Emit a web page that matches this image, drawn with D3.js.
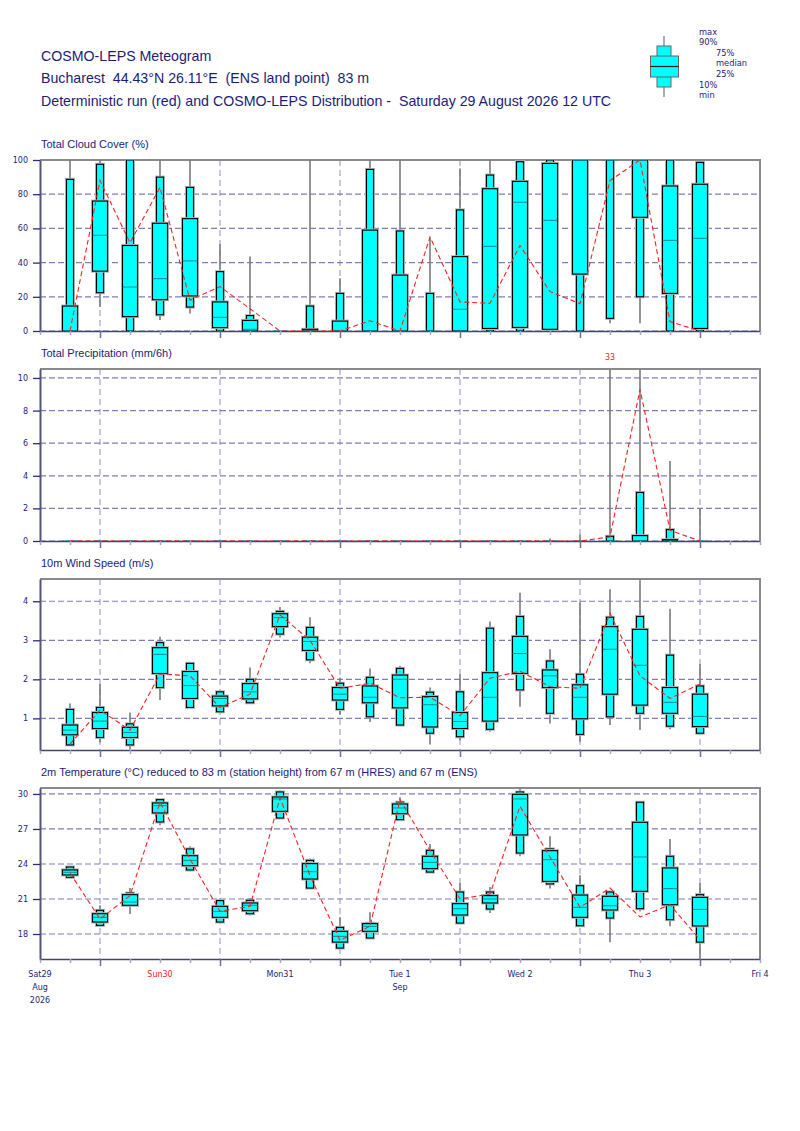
<!DOCTYPE html>
<html>
<head>
<meta charset="utf-8">
<script src="https://cdn.jsdelivr.net/npm/d3@7"></script>
<style>
  body { margin: 0; background: #fff; }
  text { white-space: pre; }
</style>
</head>
<body>
<div id="chart"></div>
<script>
// forecast steps, hours after Sat 29 Aug 2026 00 UTC
const stepHours = [6, 12, 18, 24, 30, 36, 42, 48, 54, 60, 66, 72, 78, 84, 90, 96, 102, 108, 114, 120, 126, 132];

// Total cloud cover (%)
const cloudMax = [100, 100, 100, 100, 100, 50.7, 43.5, 0, 100, 30.8, 100, 100, 54.6, 95, 100, 100, 100, 100, 100, 100, 100, 100];
const cloudP90 = [88.7, 97.5, 100, 90, 84, 34.7, 9, 0, 14.6, 22, 94.5, 58.5, 22, 70.8, 91.2, 99, 100, 100, 100, 100, 100, 98.6];
const cloudP75 = [14.6, 76, 50, 63, 65.7, 17, 6.2, 0, 1, 5.8, 59, 32.7, 0, 43.5, 83.2, 87.5, 98, 100, 100, 100, 84.8, 85.8];
const cloudMed = [0, 56, 25.7, 30.6, 41, 8, 1, 0, 0, 0, 0, 0, 0, 12.7, 49.5, 75.3, 64.7, 100, 100, 100, 53, 54.2];
const cloudP25 = [0, 35, 8.4, 18.3, 20.5, 2, 0, 0, 0, 0, 0, 0, 0, 0, 1.5, 2.1, 1, 33.3, 100, 66.5, 22, 1.5];
const cloudP10 = [0, 22.4, 0, 9.5, 14, 0, 0, 0, 0, 0, 0, 0, 0, 0, 0, 0, 0, 0, 7.4, 20, 0, 0];
const cloudMin = [0, 14, 0, 6.4, 10.3, 0, 0, 0, 0, 0, 0, 0, 0, 0, 0, 0, 0, 0, 4.5, 4.5, 0, 0];
const cloudDet = [0, 88, 51.6, 84, 18, 26, 13, 0, 0, 0, 6, 0, 55, 17, 16.2, 50, 23, 16, 88, 100, 5.5, 0];

// Total precipitation (mm/6h)
const precMax = [0, 0, 0, 0, 0, 0, 0, 0, 0, 0, 0, 0, 0, 0, 0, 0, 0.15, 0.4, 33, 10.5, 4.9, 2.0];
const precP90 = [0, 0, 0, 0, 0, 0, 0, 0, 0, 0, 0, 0, 0, 0, 0, 0, 0, 0, 0.29, 2.98, 0.7, 0];
const precP75 = [0, 0, 0, 0, 0, 0, 0, 0, 0, 0, 0, 0, 0, 0, 0, 0, 0, 0, 0, 0.33, 0.08, 0];
const precMed = [0, 0, 0, 0, 0, 0, 0, 0, 0, 0, 0, 0, 0, 0, 0, 0, 0, 0, 0, 0, 0, 0];
const precP25 = [0, 0, 0, 0, 0, 0, 0, 0, 0, 0, 0, 0, 0, 0, 0, 0, 0, 0, 0, 0, 0, 0];
const precP10 = [0, 0, 0, 0, 0, 0, 0, 0, 0, 0, 0, 0, 0, 0, 0, 0, 0, 0, 0, 0, 0, 0];
const precMin = [0, 0, 0, 0, 0, 0, 0, 0, 0, 0, 0, 0, 0, 0, 0, 0, 0, 0, 0, 0, 0, 0];
const precDet = [0, 0, 0, 0, 0, 0, 0, 0, 0, 0, 0, 0, 0, 0, 0, 0, 0, 0, 0.25, 9.3, 0.66, 0];

// 10m wind speed (m/s)
const windMax = [1.38, 1.88, 1.15, 3.09, 2.43, 1.68, 2.30, 3.85, 3.59, 2.04, 2.28, 2.35, 1.79, 2.13, 3.48, 4.22, 2.77, 3.97, 4.31, 4.6, 3.81, 2.39];
const windP90 = [1.23, 1.28, 0.86, 2.94, 2.41, 1.68, 2.0, 3.74, 3.33, 1.9, 2.05, 2.28, 1.67, 1.68, 3.31, 3.61, 2.47, 2.13, 3.59, 3.61, 2.62, 1.83];
const windP75 = [0.83, 1.15, 0.77, 2.81, 2.20, 1.57, 1.89, 3.68, 3.08, 1.79, 1.83, 2.11, 1.56, 1.15, 2.17, 3.10, 2.24, 1.86, 3.35, 3.28, 1.79, 1.62];
const windMed = [0.70, 0.93, 0.64, 2.64, 1.84, 1.51, 1.68, 3.58, 2.97, 1.62, 1.54, 2.0, 1.35, 0.92, 1.54, 2.66, 2.09, 1.54, 2.77, 2.36, 1.41, 1.05];
const windP25 = [0.58, 0.74, 0.51, 2.15, 1.51, 1.32, 1.50, 3.35, 2.74, 1.47, 1.40, 1.27, 0.78, 0.74, 0.93, 2.15, 1.79, 0.99, 1.62, 1.34, 1.13, 0.79];
const windP10 = [0.32, 0.51, 0.32, 1.79, 1.28, 1.17, 1.40, 3.16, 2.50, 1.23, 1.04, 0.83, 0.62, 0.53, 0.72, 1.73, 1.13, 0.59, 1.04, 1.13, 0.80, 0.62];
const windMin = [0.29, 0.38, 0.2, 1.47, 1.24, 1.17, 1.38, 3.07, 2.41, 1.1, 0.91, 0.83, 0.33, 0.44, 0.66, 1.30, 0.87, 0.40, 0.83, 0.70, 0.72, 0.62];
const windDet = [0.34, 1.21, 0.70, 2.14, 2.09, 1.28, 1.62, 3.65, 3.0, 1.77, 1.9, 1.53, 1.54, 1.07, 2.03, 2.21, 1.81, 1.77, 3.69, 2.09, 1.51, 1.88];

// 2m temperature (°C)
const tempMax = [23.8, 20.46, 21.94, 29.57, 25.51, 21.0, 21.09, 30.29, 24.46, 19.43, 19.86, 29.71, 25.71, 22.37, 22.03, 30.46, 26.37, 23.03, 21.71, 29.31, 26.14, 22.37];
const tempP90 = [23.74, 20.03, 21.51, 29.51, 25.29, 20.86, 20.89, 30.17, 24.31, 18.57, 18.94, 29.29, 25.17, 21.6, 21.6, 30.17, 25.29, 22.14, 21.6, 29.29, 24.66, 21.37];
const tempP75 = [23.49, 19.74, 21.37, 29.23, 24.71, 20.37, 20.66, 29.74, 24.03, 18.23, 18.89, 29.14, 24.66, 20.6, 21.29, 29.97, 25.14, 21.34, 21.23, 27.57, 23.66, 21.14];
const tempMed = [23.29, 19.43, 20.74, 29.0, 24.31, 19.94, 20.46, 29.57, 23.34, 17.8, 18.66, 28.8, 24.14, 20.17, 21.0, 29.57, 24.37, 20.29, 20.43, 24.6, 21.89, 20.11];
const tempP25 = [23.06, 19.03, 20.46, 28.37, 23.86, 19.43, 20.0, 28.51, 22.71, 17.31, 18.23, 28.31, 23.6, 19.63, 20.66, 26.49, 22.51, 19.43, 20.06, 21.66, 20.51, 18.69];
const tempP10 = [22.86, 18.74, 20.46, 27.6, 23.49, 19.03, 19.74, 27.94, 21.94, 16.8, 17.66, 27.8, 23.31, 18.94, 20.14, 24.94, 22.29, 18.71, 19.37, 20.17, 19.23, 17.31];
const tempMin = [22.86, 18.74, 19.71, 27.31, 23.37, 19.03, 19.6, 27.94, 21.94, 16.8, 17.66, 27.8, 23.31, 18.89, 19.8, 24.66, 21.89, 18.71, 17.29, 19.94, 18.66, 15.5];
const tempDet = [23.23, 19.29, 21.29, 29.29, 24.43, 19.94, 20.37, 29.66, 23.0, 17.46, 18.66, 29.51, 25.17, 21.0, 21.43, 28.94, 24.6, 20.29, 21.94, 19.46, 20.51, 17.51];

// tick labels
const cloudTicks = [0, 20, 40, 60, 80, 100];
const precTicks = [0, 2, 4, 6, 8, 10];
const windTicks = [1, 2, 3, 4];
const tempTicks = [18, 21, 24, 27, 30];
const dayLabels = [['Sat29', 'Aug', '2026'], ['Sun30'], ['Mon31'], ['Tue 1', 'Sep'], ['Wed 2'], ['Thu 3'], ['Fri 4']];

const navy = '#1c1c78';
const start = new Date(Date.UTC(2026, 7, 29));
const end = new Date(Date.UTC(2026, 8, 4));
const x = d3.scaleUtc().domain([start, end]).range([40, 760]);
const times = stepHours.map(h => d3.utcHour.offset(start, h));
const sixHours = d3.utcHour.every(6).range(start, d3.utcHour.offset(end, 1));
const noons = sixHours.filter(d => d.getUTCHours() === 12);

const svg = d3.select('#chart').append('svg')
    .attr('width', 800)
    .attr('height', 1131)
    .style('font-family', '"DejaVu Sans", sans-serif');

// header
const head = svg.append('g')
    .style('font-family', '"Liberation Sans", Arial, sans-serif')
    .style('font-size', '14.2px')
    .attr('fill', navy);
head.append('text').attr('x', 41).attr('y', 61).text('COSMO-LEPS Meteogram');
head.append('text').attr('x', 41).attr('y', 83).text('Bucharest  44.43°N 26.11°E  (ENS land point)  83 m');
head.append('text').attr('x', 41).attr('y', 106).text('Deterministic run (red) and COSMO-LEPS Distribution -  Saturday 29 August 2026 12 UTC');

// legend box
const leg = svg.append('g');
leg.append('line').attr('x1', 664).attr('x2', 664).attr('y1', 36).attr('y2', 97)
    .attr('stroke', '#777').attr('stroke-width', 1.2);
leg.append('rect').attr('x', 657).attr('y', 46).attr('width', 14).attr('height', 41)
    .attr('fill', 'cyan').attr('stroke', '#666');
leg.append('rect').attr('x', 650.5).attr('y', 56).attr('width', 28).attr('height', 21)
    .attr('fill', 'cyan').attr('stroke', '#666');
leg.append('line').attr('x1', 650.5).attr('x2', 678.5).attr('y1', 66.5).attr('y2', 66.5)
    .attr('stroke', '#222').attr('stroke-width', 1.2);
const legText = [['max', 699, 35], ['90%', 699, 45], ['75%', 716, 56], ['median', 716, 66],
    ['25%', 716, 77], ['10%', 699, 88], ['min', 699, 98]];
leg.selectAll('text').data(legText).join('text')
    .attr('x', d => d[1]).attr('y', d => d[2])
    .attr('fill', navy).style('font-size', '8.3px')
    .text(d => d[0]);

const panels = [
    { title: 'Total Cloud Cover (%)', top: 160, bottom: 331, domain: [0, 100], ticks: cloudTicks,
      max: cloudMax, p90: cloudP90, p75: cloudP75, med: cloudMed, p25: cloudP25, p10: cloudP10, min: cloudMin, det: cloudDet },
    { title: 'Total Precipitation (mm/6h)', top: 369, bottom: 541, domain: [0, 10.55], ticks: precTicks, showOver: true,
      max: precMax, p90: precP90, p75: precP75, med: precMed, p25: precP25, p10: precP10, min: precMin, det: precDet },
    { title: '10m Wind Speed (m/s)', top: 579, bottom: 750, domain: [0.19, 4.57], ticks: windTicks,
      max: windMax, p90: windP90, p75: windP75, med: windMed, p25: windP25, p10: windP10, min: windMin, det: windDet },
    { title: '2m Temperature (°C) reduced to 83 m (station height) from 67 m (HRES) and 67 m (ENS)', top: 788, bottom: 959,
      domain: [15.86, 30.51], ticks: tempTicks,
      max: tempMax, p90: tempP90, p75: tempP75, med: tempMed, p25: tempP25, p10: tempP10, min: tempMin, det: tempDet }
];

panels.forEach((p, i) => {
    const y = d3.scaleLinear().domain(p.domain).range([p.bottom, p.top]);
    const g = svg.append('g');
    const rows = times.map((t, k) => ({
        t, max: p.max[k], p90: p.p90[k], p75: p.p75[k], med: p.med[k],
        p25: p.p25[k], p10: p.p10[k], min: p.min[k], det: p.det[k]
    }));

    g.append('text')
        .attr('x', 41).attr('y', p.top - 12)
        .attr('fill', navy)
        .style('font-family', '"Liberation Sans", Arial, sans-serif')
        .style('font-size', '11px')
        .text(p.title);

    // grid
    g.selectAll('line.vgrid').data(noons).join('line')
        .attr('class', 'vgrid')
        .attr('x1', d => x(d)).attr('x2', d => x(d))
        .attr('y1', p.top).attr('y2', p.bottom)
        .attr('stroke', '#b6b6da').attr('stroke-width', 1.5)
        .attr('stroke-dasharray', '6,4');
    g.selectAll('line.hgrid').data(p.ticks).join('line')
        .attr('class', 'hgrid')
        .attr('x1', 40).attr('x2', 760)
        .attr('y1', d => y(d)).attr('y2', d => y(d))
        .attr('stroke', '#7e7eb6').attr('stroke-width', 1.2)
        .attr('stroke-dasharray', '6,3');

    // frame
    g.append('path')
        .attr('d', `M40,${p.top}H760V${p.bottom}`)
        .attr('fill', 'none').attr('stroke', '#8a8a8a').attr('stroke-width', 2);

    // bottom time ticks
    const xAxis = g.append('g')
        .attr('transform', `translate(0,${p.bottom})`)
        .call(d3.axisBottom(x).tickValues(sixHours).tickSize(4).tickFormat('').tickSizeOuter(0));
    xAxis.select('.domain').attr('stroke', '#44446a').attr('stroke-width', 1.6);
    xAxis.selectAll('.tick line')
        .attr('stroke', d => d.getUTCHours() === 12 ? '#6e6ea0' : '#a6a6d0')
        .attr('stroke-width', 1.5)
        .attr('y2', d => d.getUTCHours() === 12 ? 7 : 4);

    // left axis
    const yAxis = g.append('g')
        .attr('transform', 'translate(40,0)')
        .call(d3.axisLeft(y).tickValues(p.ticks).tickFormat(d3.format('d'))
            .tickSize(7).tickPadding(5).tickSizeOuter(0));
    yAxis.select('.domain').attr('stroke', '#55557a').attr('stroke-width', 2);
    yAxis.selectAll('.tick line').attr('stroke', '#2a2a80').attr('stroke-width', 1.3);
    yAxis.selectAll('.tick text')
        .attr('fill', navy)
        .style('font-family', '"DejaVu Sans", sans-serif')
        .style('font-size', '8px');

    // boxes, clipped to plot area
    svg.append('clipPath').attr('id', 'clip' + i)
        .append('rect').attr('x', 40).attr('y', p.top).attr('width', 720).attr('height', p.bottom - p.top);
    const plot = svg.append('g').attr('clip-path', `url(#clip${i})`);

    const box = plot.selectAll('g.box').data(rows).join('g')
        .attr('class', 'box')
        .attr('transform', d => `translate(${x(d.t)},0)`);
    box.append('line')
        .attr('y1', d => y(d.min)).attr('y2', d => y(d.max))
        .attr('stroke', '#7a7a7a').attr('stroke-width', 1.6);
    [['p10', 'p90', 7], ['p25', 'p75', 15]].forEach(([lo, hi, w]) => {
        box.append('rect')
            .attr('x', -w / 2).attr('width', w)
            .attr('y', d => y(d[hi])).attr('height', d => y(d[lo]) - y(d[hi]))
            .attr('fill', 'none').attr('stroke', '#b4b4b4').attr('stroke-width', 3);
        box.append('rect')
            .attr('x', -w / 2).attr('width', w)
            .attr('y', d => y(d[hi])).attr('height', d => y(d[lo]) - y(d[hi]))
            .attr('fill', 'cyan').attr('stroke', '#000').attr('stroke-width', 1.1);
    });
    box.append('line')
        .attr('x1', -7.5).attr('x2', 7.5)
        .attr('y1', d => y(d.med)).attr('y2', d => y(d.med))
        .attr('stroke', '#008f8f').attr('stroke-width', 1);

    // deterministic run
    plot.append('path')
        .datum(rows)
        .attr('d', d3.line().x(d => x(d.t)).y(d => y(d.det)))
        .attr('fill', 'none').attr('stroke', '#ff2020').attr('stroke-width', 1.1)
        .attr('stroke-dasharray', '5,3');

    // value written above the panel when the maximum is far off scale
    if (p.showOver) {
        g.selectAll('text.over').data(rows.filter(d => d.max > p.domain[1])).join('text')
            .attr('class', 'over')
            .attr('x', d => x(d.t)).attr('y', p.top - 9)
            .attr('text-anchor', 'middle').attr('fill', '#ff2020')
            .style('font-size', '8px')
            .text(d => d3.format('d')(d.max));
    }
});

// day labels under the last panel
const days = d3.utcDay.range(start, d3.utcHour.offset(end, 1));
const dayG = svg.selectAll('g.day').data(days).join('g')
    .attr('class', 'day')
    .attr('transform', d => `translate(${x(d)},977)`);
dayG.selectAll('text').data((d, i) => dayLabels[i].map(s => ({ s, sun: d.getUTCDay() === 0 }))).join('text')
    .attr('y', (d, j) => j * 13)
    .attr('text-anchor', 'middle')
    .attr('fill', d => d.sun ? '#ff2020' : navy)
    .style('font-size', '8px')
    .text(d => d.s);
</script>
</body>
</html>
